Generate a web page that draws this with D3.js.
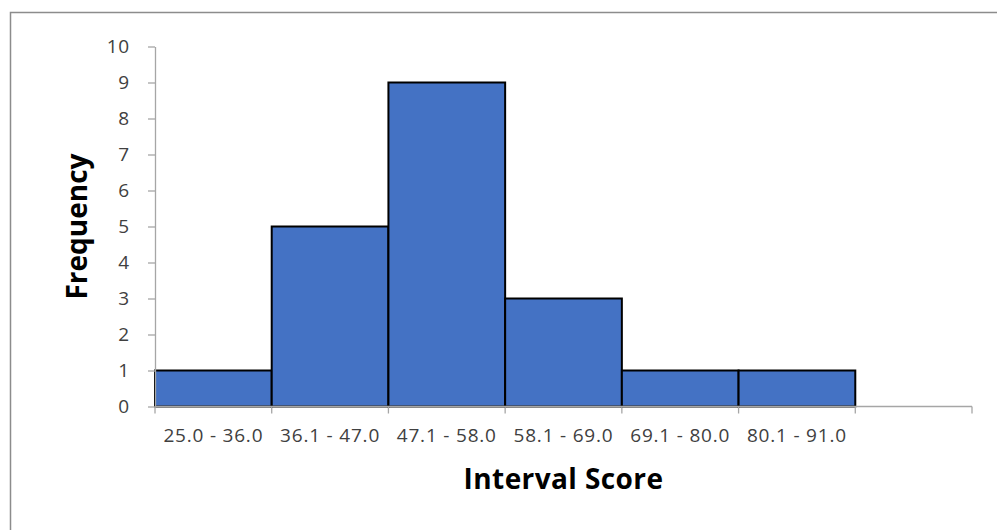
<!DOCTYPE html>
<html>
<head>
<meta charset="utf-8">
<script src="https://cdn.jsdelivr.net/npm/d3@7"></script>
<style>
  html, body { margin: 0; padding: 0; background: #fff; }
  svg { display: block; }
  .axis text { font-family: "Open Sans", sans-serif; fill: #404040; }
</style>
</head>
<body>
<div id="chart"></div>
<script>
// Data
const intervals = ['25.0 - 36.0', '36.1 - 47.0', '47.1 - 58.0', '58.1 - 69.0', '69.1 - 80.0', '80.1 - 91.0', ''];
const frequency = [1, 5, 9, 3, 1, 1];
const yTicks = [0, 1, 2, 3, 4, 5, 6, 7, 8, 9, 10];

const width = 997;
const height = 530;

const svg = d3.select('#chart')
  .append('svg')
  .attr('width', width)
  .attr('height', height);

// Chart area border
svg.append('rect')
  .attr('x', 10.5)
  .attr('y', 12.5)
  .attr('width', 1000)
  .attr('height', 600)
  .attr('fill', 'none')
  .attr('stroke', '#8c8c8c')
  .attr('stroke-width', 1.5);

const plot = { left: 155, right: 972, top: 46.5, bottom: 406.5 };

const x = d3.scaleBand()
  .domain(d3.range(intervals.length))
  .range([plot.left, plot.right])
  .padding(0);

const y = d3.scaleLinear()
  .domain([0, 10])
  .range([plot.bottom, plot.top]);

// Bars
svg.append('g')
  .selectAll('rect')
  .data(frequency)
  .join('rect')
  .attr('x', (d, i) => x(i))
  .attr('y', d => y(d))
  .attr('width', x.bandwidth())
  .attr('height', d => y(0) - y(d))
  .attr('fill', '#4472C4')
  .attr('stroke', '#000')
  .attr('stroke-width', 2);

// Y axis
const yAxis = svg.append('g')
  .attr('class', 'axis')
  .attr('transform', `translate(${plot.left},0)`)
  .call(d3.axisLeft(y).tickValues(yTicks).tickSize(7).tickSizeOuter(0).tickPadding(18));
yAxis.selectAll('line, path').attr('stroke', '#a6a6a6').attr('stroke-width', 1.3);
yAxis.selectAll('text').attr('font-size', 19).attr('letter-spacing', 0.8);

// X axis with ticks at band edges
const xAxis = svg.append('g')
  .attr('class', 'axis')
  .attr('transform', `translate(0,${plot.bottom})`);
xAxis.append('line')
  .attr('x1', plot.left).attr('x2', plot.right)
  .attr('stroke', '#a6a6a6').attr('stroke-width', 1.3);
xAxis.selectAll('.edge')
  .data(d3.range(intervals.length + 1))
  .join('line')
  .attr('class', 'edge')
  .attr('x1', i => i < intervals.length ? x(i) : plot.right)
  .attr('x2', i => i < intervals.length ? x(i) : plot.right)
  .attr('y1', 0).attr('y2', 7)
  .attr('stroke', '#a6a6a6').attr('stroke-width', 1.3);
xAxis.selectAll('.lbl')
  .data(intervals)
  .join('text')
  .attr('class', 'lbl')
  .attr('x', (d, i) => x(i) + x.bandwidth() / 2)
  .attr('y', 35)
  .attr('text-anchor', 'middle')
  .attr('font-size', 19)
  .attr('letter-spacing', 0.8)
  .text(d => d);

// Axis titles
svg.append('text')
  .attr('x', (plot.left + plot.right) / 2)
  .attr('y', 489)
  .attr('text-anchor', 'middle')
  .attr('font-family', '"Open Sans", sans-serif')
  .attr('font-weight', 'bold')
  .attr('font-size', 28)
  .attr('letter-spacing', 0.4)
  .attr('fill', '#000')
  .text('Interval Score');

svg.append('text')
  .attr('transform', `translate(87,${(plot.top + plot.bottom) / 2}) rotate(-90)`)
  .attr('text-anchor', 'middle')
  .attr('font-family', '"Open Sans", sans-serif')
  .attr('font-weight', 'bold')
  .attr('font-size', 28)
  .attr('fill', '#000')
  .text('Frequency');
</script>
</body>
</html>
